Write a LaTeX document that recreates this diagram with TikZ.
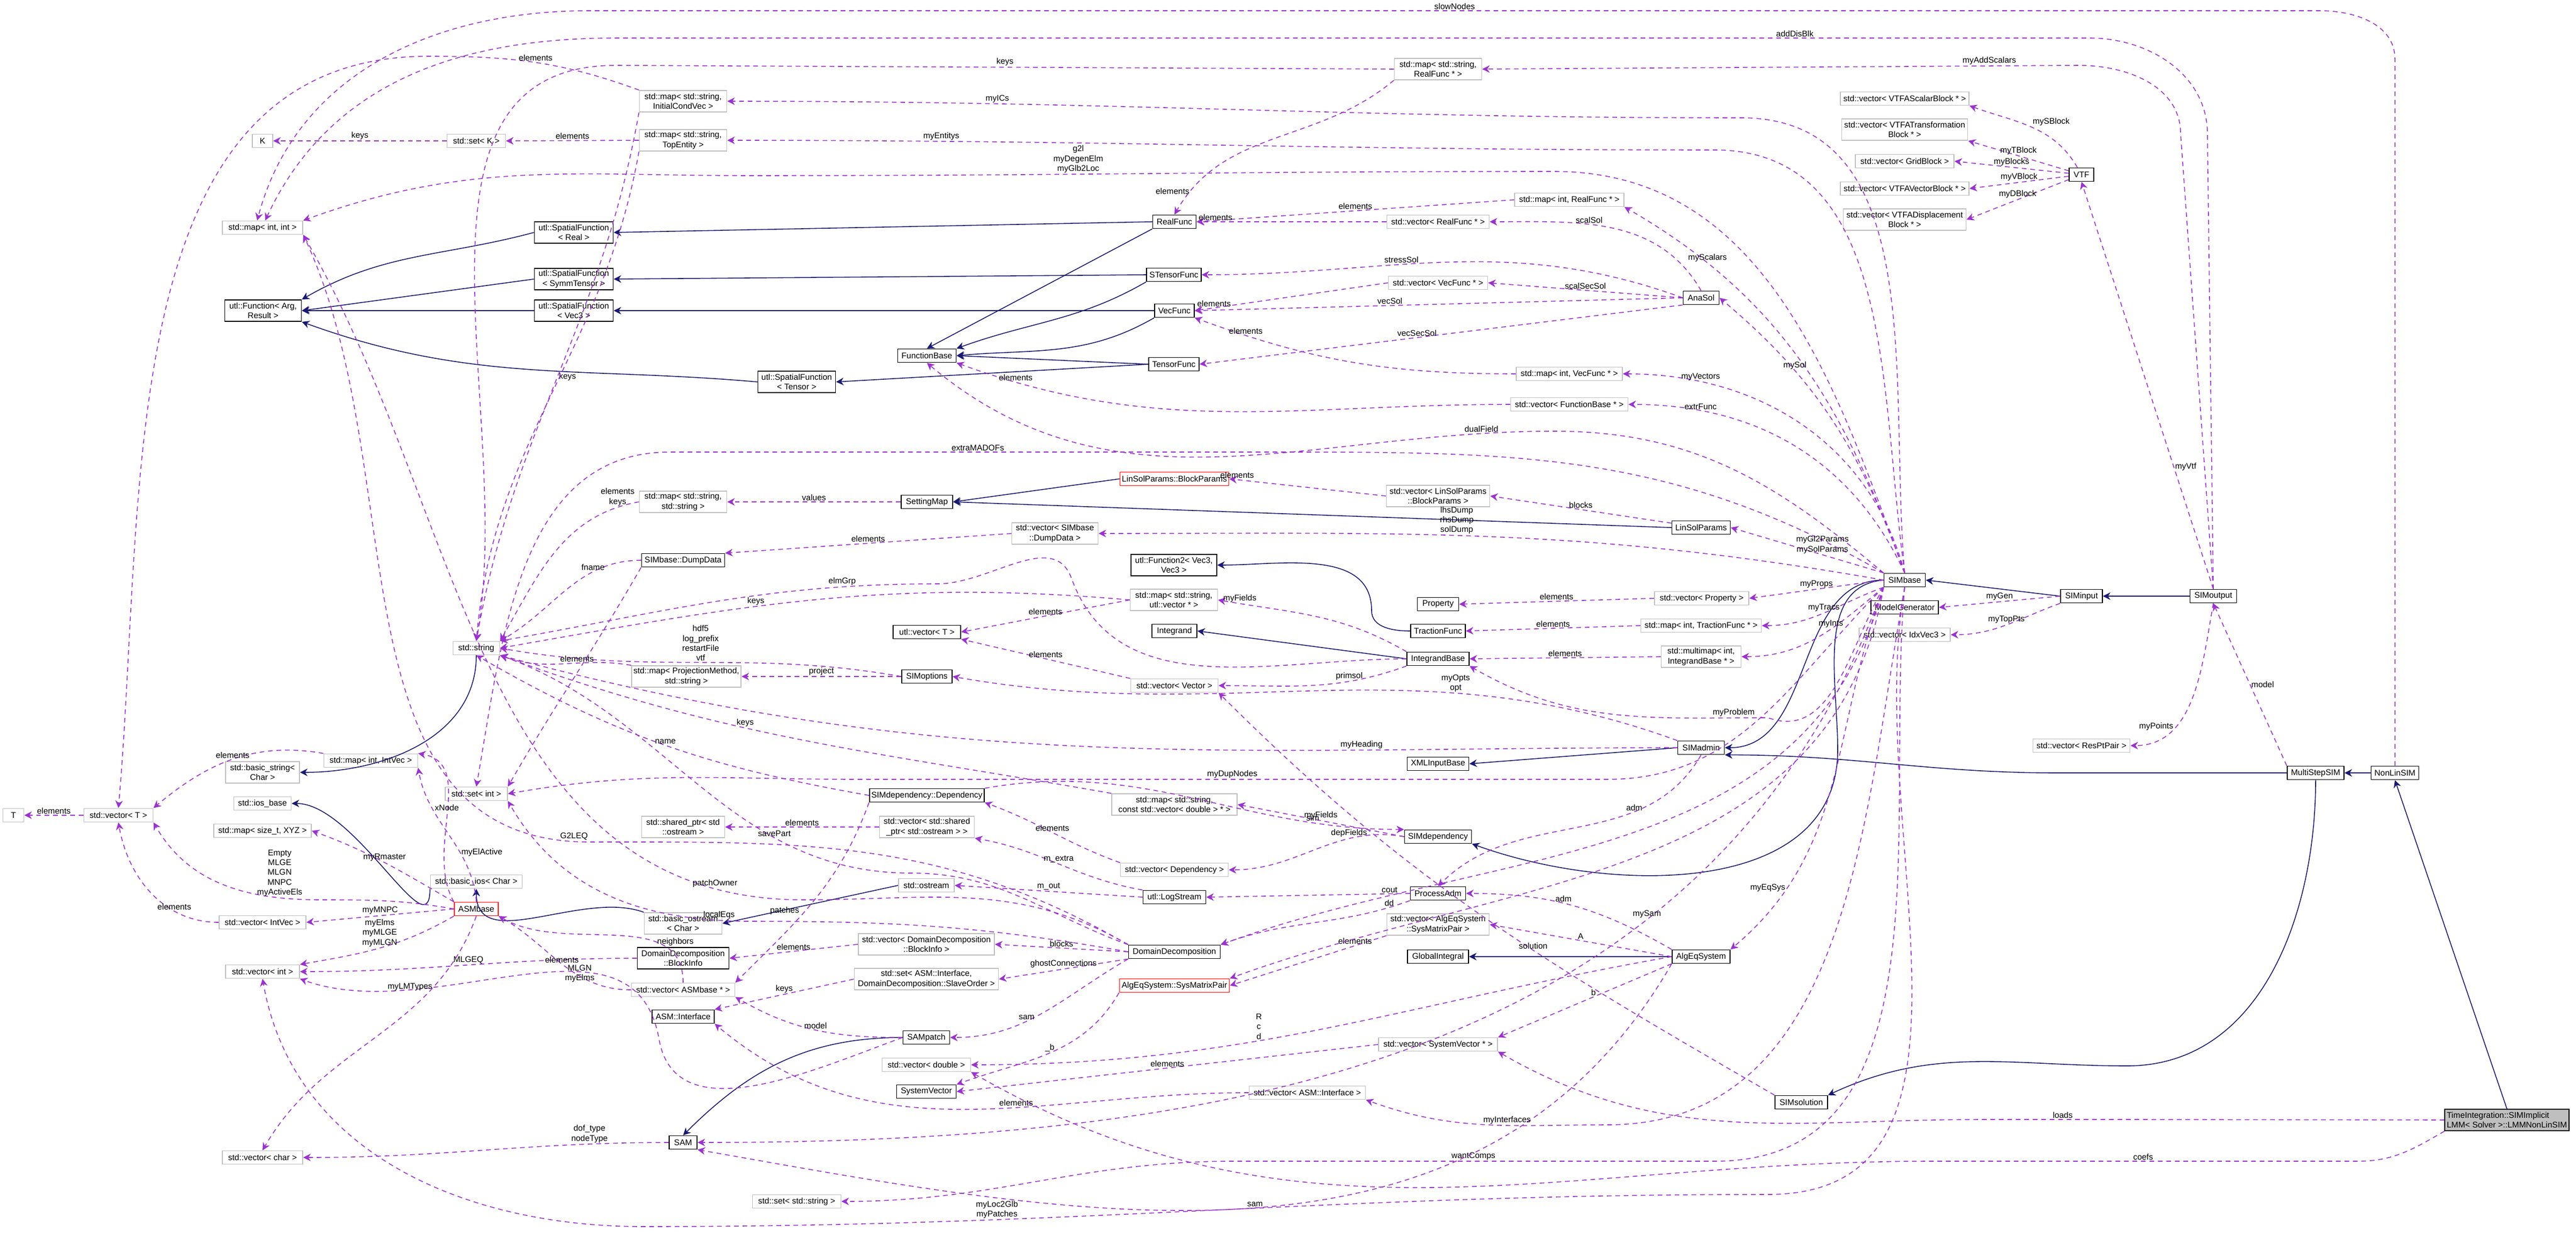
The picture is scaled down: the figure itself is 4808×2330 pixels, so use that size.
\documentclass[tikz,border=0pt]{standalone}
\usepackage{fontspec}
\setmainfont{Liberation Sans}
\usetikzlibrary{arrows.meta}
\definecolor{nv}{HTML}{191970}
\definecolor{pu}{HTML}{9A32CD}
\definecolor{gb}{HTML}{BFBFBF}
\begin{document}
\begin{tikzpicture}[x=0.01cm,y=-0.01cm,
 every node/.style={font=\fontsize{4.4}{5.2}\selectfont,inner sep=1pt,align=center},
 b/.style={draw=black,line width=0.5pt,fill=white,minimum height=0.25cm},
 e/.style={draw=gb,line width=0.5pt,fill=white,minimum height=0.25cm},
 r/.style={draw=red,line width=0.5pt,fill=white,minimum height=0.25cm},
 t/.style={minimum height=0.40cm},
 i/.style={draw=nv,line width=0.45pt,-{Stealth[length=4pt,width=4pt]}},
 u/.style={draw=pu,line width=0.45pt,dash pattern=on 2.5pt off 2pt,-{Stealth[length=4pt,width=4pt]}},
 lb/.style={fill=none,inner sep=0.5pt}]
\useasboundingbox (0,0) rectangle (4808,2330);
% ---------- nodes ----------
\node[e,minimum width=0.38cm] (K) at (490,263) {K};
\node[e,minimum width=1.09cm] (setK) at (889,263) {std::set< K >};
\node[e,minimum width=1.50cm] (mapii) at (490,425) {std::map< int, int >};
\node[b,t,minimum width=1.47cm] (sfR) at (1071,434) {utl::SpatialFunction\\< Real >};
\node[b,t,minimum width=1.47cm] (sfS) at (1071,521) {utl::SpatialFunction\\< SymmTensor >};
\node[b,t,minimum width=1.47cm] (sfV) at (1071,580) {utl::SpatialFunction\\< Vec3 >};
\node[b,t,minimum width=1.43cm] (fun) at (491,580) {utl::Function< Arg,\\Result >};
\node[e,t,minimum width=1.63cm] (mapIC) at (1275,189) {std::map< std::string,\\InitialCondVec >};
\node[e,t,minimum width=1.63cm] (mapTop) at (1275,262) {std::map< std::string,\\TopEntity >};
\node[b,minimum width=0.81cm] (RF) at (2192,414) {RealFunc};
\node[b,minimum width=1.02cm] (STF) at (2191,513) {STensorFunc};
\node[b,minimum width=0.74cm] (VF) at (2192,580) {VecFunc};
\node[b,minimum width=1.09cm] (FB) at (1730,664) {FunctionBase};
\node[b,minimum width=0.94cm] (TF) at (2191,680) {TensorFunc};
\node[b,t,minimum width=1.45cm] (sfT) at (1487,713) {utl::SpatialFunction\\< Tensor >};
\node[e,t,minimum width=1.63cm] (mapSRF) at (2684,129) {std::map< std::string,\\RealFunc * >};
\node[e,minimum width=2.40cm] (vS) at (3555,184) {std::vector< VTFAScalarBlock * >};
\node[e,t,minimum width=2.35cm] (vT) at (3555,242) {std::vector< VTFATransformation\\Block * >};
\node[e,minimum width=1.84cm] (vG) at (3555,301) {std::vector< GridBlock >};
\node[e,minimum width=2.40cm] (vV) at (3555,352) {std::vector< VTFAVectorBlock * >};
\node[e,t,minimum width=2.29cm] (vD) at (3555,410) {std::vector< VTFADisplacement\\Block * >};
\node[e,minimum width=2.04cm] (mapIRF) at (2929,373) {std::map< int, RealFunc * >};
\node[e,minimum width=1.91cm] (vecRF) at (2684,414) {std::vector< RealFunc * >};
\node[e,minimum width=1.85cm] (vecVF) at (2684,528) {std::vector< VecFunc * >};
\node[b,minimum width=0.67cm] (Ana) at (3175,556) {AnaSol};
\node[e,minimum width=1.98cm] (mapIVF) at (2929,698) {std::map< int, VecFunc * >};
\node[e,minimum width=2.19cm] (vecFB) at (2929,755) {std::vector< FunctionBase * >};
\node[b,minimum width=0.46cm] (VTF) at (3885,326) {VTF};
\node[e,minimum width=0.87cm] (str) at (889,1210) {std::string};
\node[e,minimum width=1.75cm] (mapIIV) at (692,1420) {std::map< int, IntVec >};
\node[e,t,minimum width=1.38cm] (bstr) at (490,1442) {std::basic\_string<\\Char >};
\node[e,minimum width=1.07cm] (ios) at (490,1500) {std::ios\_base};
\node[e,minimum width=1.16cm] (setint) at (889,1482) {std::set< int >};
\node[e,minimum width=1.29cm] (vecT) at (221,1522) {std::vector< T >};
\node[e,minimum width=0.39cm] (T) at (25,1522) {T};
\node[e,minimum width=1.82cm] (mapXYZ) at (490,1551) {std::map< size\_t, XYZ >};
\node[e,t,minimum width=1.63cm] (mapSS) at (1275,937) {std::map< std::string,\\std::string >};
\node[b,minimum width=0.96cm] (SM) at (1730,937) {SettingMap};
\node[r,minimum width=2.01cm] (BP) at (2192,894) {LinSolParams::BlockParams};
\node[e,t,minimum width=1.61cm] (vecDD) at (1969,996) {std::vector< SIMbase\\::DumpData >};
\node[b,minimum width=1.55cm] (DD) at (1275,1046) {SIMbase::DumpData};
\node[b,t,minimum width=1.60cm] (F2) at (2191,1055) {utl::Function2< Vec3,\\Vec3 >};
\node[e,t,minimum width=1.63cm] (mapSUV) at (2191,1120) {std::map< std::string,\\utl::vector * >};
\node[b,minimum width=1.26cm] (uvT) at (1730,1180) {utl::vector< T >};
\node[b,minimum width=0.84cm] (Int) at (2192,1178) {Integrand};
\node[e,t,minimum width=2.00cm] (mapPM) at (1281,1263) {std::map< ProjectionMethod,\\std::string >};
\node[b,minimum width=0.94cm] (opt) at (1730,1263) {SIMoptions};
\node[e,minimum width=1.63cm] (vecVec) at (2192,1280) {std::vector< Vector >};
\node[b,minimum width=2.13cm] (dep) at (1730,1485) {SIMdependency::Dependency};
\node[e,t,minimum width=2.34cm] (mapSCV) at (2192,1502) {std::map< std::string,\\const std::vector< double > * >};
\node[e,t,minimum width=1.55cm] (shp) at (1275,1544) {std::shared\_ptr< std\\::ostream >};
\node[e,t,minimum width=1.77cm] (vecSP) at (1730,1544) {std::vector< std::shared\\\_ptr< std::ostream > >};
\node[e,t,minimum width=1.93cm] (vecBP) at (2684,926) {std::vector< LinSolParams\\::BlockParams >};
\node[b,minimum width=1.09cm] (LSP) at (3175,985) {LinSolParams};
\node[b,minimum width=0.77cm] (SB) at (3555,1083) {SIMbase};
\node[b,minimum width=0.77cm] (Prop) at (2684,1128) {Property};
\node[e,minimum width=1.76cm] (vecProp) at (3176,1117) {std::vector< Property >};
\node[b,minimum width=1.26cm] (MG) at (3555,1134) {ModelGenerator};
\node[b,minimum width=1.02cm] (TrF) at (2684,1178) {TractionFunc};
\node[e,minimum width=2.25cm] (mapTF) at (3175,1168) {std::map< int, TractionFunc * >};
\node[e,minimum width=1.70cm] (vecIdx) at (3555,1185) {std::vector< IdxVec3 >};
\node[b,minimum width=1.16cm] (IB) at (2684,1230) {IntegrandBase};
\node[e,t,minimum width=1.49cm] (mmap) at (3175,1226) {std::multimap< int,\\IntegrandBase * >};
\node[b,minimum width=0.87cm] (adm) at (3175,1396) {SIMadmin};
\node[b,minimum width=1.15cm] (XML) at (2684,1426) {XMLInputBase};
\node[b,minimum width=1.25cm] (SD) at (2684,1562) {SIMdependency};
\node[b,minimum width=0.78cm] (SI) at (3885,1113) {SIMinput};
\node[b,minimum width=0.87cm] (SO) at (4131,1113) {SIMoutput};
\node[e,minimum width=1.81cm] (vecRP) at (3885,1392) {std::vector< ResPtPair >};
\node[b,minimum width=1.06cm] (MS) at (4322,1443) {MultiStepSIM};
\node[b,minimum width=0.89cm] (NL) at (4470,1443) {NonLinSIM};
\node[e,minimum width=1.71cm] (bios) at (889,1646) {std::basic\_ios< Char >};
\node[r,minimum width=0.82cm] (ASM) at (889,1697) {ASMbase};
\node[e,minimum width=1.62cm] (vecIV) at (490,1722) {std::vector< IntVec >};
\node[e,minimum width=1.38cm] (vecint) at (490,1814) {std::vector< int >};
\node[e,minimum width=1.50cm] (vecchar) at (490,2161) {std::vector< char >};
\node[e,minimum width=1.04cm] (ost) at (1729,1653) {std::ostream};
\node[b,minimum width=1.17cm] (LS) at (2192,1675) {utl::LogStream};
\node[e,minimum width=2.01cm] (vecDep) at (2192,1624) {std::vector< Dependency >};
\node[e,t,minimum width=1.45cm] (bost) at (1275,1724) {std::basic\_ostream\\< Char >};
\node[e,t,minimum width=2.54cm] (vecBI) at (1729,1763) {std::vector< DomainDecomposition\\::BlockInfo >};
\node[b,t,minimum width=1.71cm] (BI) at (1275,1789) {DomainDecomposition\\::BlockInfo};
\node[b,minimum width=1.71cm] (DDc) at (2192,1777) {DomainDecomposition};
\node[e,t,minimum width=2.69cm] (setASM) at (1729,1828) {std::set< ASM::Interface,\\DomainDecomposition::SlaveOrder >};
\node[r,minimum width=2.05cm] (SMP) at (2192,1840) {AlgEqSystem::SysMatrixPair};
\node[e,minimum width=1.93cm] (vecASM) at (1275,1848) {std::vector< ASMbase * >};
\node[b,minimum width=1.16cm] (AI) at (1275,1898) {ASM::Interface};
\node[b,minimum width=0.87cm] (SAMp) at (1729,1937) {SAMpatch};
\node[e,minimum width=1.65cm] (vecdb) at (1729,1988) {std::vector< double >};
\node[b,minimum width=1.11cm] (SV) at (1729,2038) {SystemVector};
\node[b,minimum width=0.52cm] (SAM) at (1275,2133) {SAM};
\node[e,minimum width=1.65cm] (setstr) at (1487,2243) {std::set< std::string >};
\node[e,minimum width=2.17cm] (vecAI) at (2440,2040) {std::vector< ASM::Interface >};
\node[b,minimum width=1.03cm] (PA) at (2684,1668) {ProcessAdm};
\node[e,t,minimum width=1.91cm] (vecSMP) at (2684,1726) {std::vector< AlgEqSystem\\::SysMatrixPair >};
\node[b,minimum width=1.14cm] (GI) at (2684,1786) {GlobalIntegral};
\node[b,minimum width=1.08cm] (AES) at (3175,1786) {AlgEqSystem};
\node[e,minimum width=2.22cm] (vecSV) at (2684,1950) {std::vector< SystemVector * >};
\node[b,minimum width=0.98cm] (SS) at (3362,2058) {SIMsolution};
\node[b,t,minimum width=2.30cm,fill=gb,align=left] (TI) at (4679,2091) {TimeIntegration::SIMImplicit\\LMM< Solver >::LMMNonLinSIM};
% ---------- inheritance ----------
\draw[i] (sfR.west) to[out=195,in=30] (fun.north east);
\draw[i] (sfS.west) -- (fun.east);
\draw[i] (sfV) -- (fun);
\draw[i] (sfT.west) to[out=175,in=-20] (fun.south east);
\draw[i] (RF.west) -- (sfR.east);
\draw[i] (RF.south west) -- (FB.north);
\draw[i] (STF.west) -- (sfS.east);
\draw[i] (STF.south west) to[out=210,in=20] (FB.north east);
\draw[i] (VF) -- (sfV);
\draw[i] (VF.south west) to[out=210,in=5] (FB.east);
\draw[i] (TF.west) -- (FB.east);
\draw[i] (TF.west) -- (sfT.east);
\draw[i] (BP.west) -- (SM.east);
\draw[i] (LSP.west) -- (SM.east);
\draw[i] (str.south) to[out=-90,in=0] (bstr.east);
\draw[i] (bios.south west) to[out=-90,in=0] (ios.east);
\draw[i] (bost.north west) to[out=160,in=-90] (bios.south);
\draw[i] (ost.west) -- (bost.east);
\draw[i] (TrF.west) to[out=180,in=-90] (2560,1140) to[out=90,in=0] (F2.east);
\draw[i] (IB.west) -- (Int.east);
\draw[i] (SB.west) to[out=180,in=0] (adm.east);
\draw[i] (adm.west) -- (XML.east);
\draw[i] (SB.west) to[out=185,in=90] (3430,1400) to[out=-90,in=-20] (SD.south east);
\draw[i] (SAMp.west) to[out=180,in=45] (SAM.north);
\draw[i] (SI.west) -- (SB.east);
\draw[i] (SO) -- (SI);
\draw[i] (MS.west) -- (3840,1443) to[out=180,in=0] (adm.south east);
\draw[i] (NL) -- (MS);
\draw[i] (MS.south) to[out=-90,in=0] (3970,1990) to[out=180,in=25] (SS.north east);
\draw[i] (TI.north) -- (NL.south);
\draw[i] (AES.west) -- (GI.east);
% ---------- usage ----------
\draw[u] (vecT) -- node[lb,above]{elements} (T);
\draw[u] (setK) -- node[lb,above]{keys} (K);
\draw[u] (mapTop.west) -- node[lb,above]{elements} (setK.east);
\draw[u] (NL.north) -- (4470,110) to[out=90,in=0] (4330,20) -- node[lb,above]{slowNodes} (1100,20) to[out=180,in=75] ([xshift=-0.1cm]mapii.north);
\draw[u] (SO.north) -- (4120,250) to[out=90,in=0] (3900,71) -- node[lb,above,pos=0.2]{addDisBlk} (1150,71) to[out=180,in=65] ([xshift=0.05cm]mapii.north);
\draw[u] (SO.north) -- (4070,250) to[out=90,in=0] (3880,122) -- node[lb,above,pos=0.15]{myAddScalars} (mapSRF.east);
\draw[u] (mapSRF.west) -- node[lb,above]{keys} (1150,122) to[out=180,in=80] (str.north);
\draw[u] (mapSRF.south west) to[out=-140,in=60] node[lb,left,pos=0.9]{elements} (RF.north);
\draw[u] (mapIC.north west) to[out=160,in=0] node[lb,above]{elements} (800,105) to[out=180,in=85] (vecT.north);
\draw[u] (mapIC.south west) to[out=-100,in=80] node[lb,right,pos=0.5]{keys} (str.north);
\draw[u] (mapTop.south west) to[out=-100,in=85] (str.north);
\draw[u] (SB.north) to[out=95,in=0] (3250,220) to[out=180,in=0] node[lb,above,pos=0.75]{myICs} (mapIC.east);
\draw[u] (SB.north) to[out=98,in=0] (3200,280) to[out=180,in=0] node[lb,above,pos=0.8]{myEntitys} (mapTop.east);
\draw[u] (SB.north) to[out=110,in=0] (2900,320) to[out=180,in=0] node[lb,above,pos=0.6,align=center]{g2l\\myDegenElm\\myGlb2Loc} (1400,328) to[out=180,in=20] (mapii.north east);
\draw[u] (mapIRF.west) -- node[lb,above]{elements} (RF.east);
\draw[u] (SB.north) to[out=110,in=-30] node[lb,above,pos=0.8]{myScalars} (mapIRF.south east);
\draw[u] (vecRF.west) -- node[lb,above,pos=0.9]{elements} (RF.east);
\draw[u] (Ana.north) to[out=120,in=0] node[lb,above,pos=0.6]{scalSol} (vecRF.east);
\draw[u] (Ana.west) to[out=160,in=0] node[lb,above,pos=0.6]{stressSol} (STF.east);
\draw[u] (Ana.west) -- node[lb,above]{scalSecSol} (vecVF.east);
\draw[u] (vecVF.west) -- node[lb,above,pos=0.9]{elements} (VF.east);
\draw[u] (Ana.west) -- node[lb,above,pos=0.6]{vecSol} (VF.east);
\draw[u] (Ana.south west) -- node[lb,above,pos=0.55]{vecSecSol} (TF.east);
\draw[u] (mapIVF.west) to[out=180,in=-20] node[lb,above,pos=0.85]{elements} (VF.south east);
\draw[u] (SB.north) to[out=105,in=0] node[lb,above,pos=0.8]{myVectors} (mapIVF.east);
\draw[u] (SB.north) to[out=110,in=-40] node[lb,above,pos=0.7]{mySol} (Ana.east);
\draw[u] (vecFB.west) to[out=180,in=-20] node[lb,above,pos=0.9]{elements} (FB.south east);
\draw[u] (SB.north) to[out=115,in=0] node[lb,above,pos=0.8]{extrFunc} (vecFB.east);
\draw[u] (SB.north west) to[out=140,in=0] (2900,805) to[out=180,in=-40] node[lb,above,pos=0.1]{dualField} (FB.south);
\draw[u] (VTF) to[out=120,in=-20] node[lb,above right]{mySBlock} (vS.south east);
\draw[u] (VTF) -- node[lb,above]{myTBlock} (vT.south east);
\draw[u] (VTF) -- node[lb,above]{myBlocks} (vG.east);
\draw[u] (VTF) -- node[lb,above]{myVBlock} (vV.east);
\draw[u] (VTF) -- node[lb,above]{myDBlock} (vD.east);
\draw[u] (SO.north) -- node[lb,right,pos=0.3]{myVtf} (VTF.south);
\draw[u] (SB.north west) to[out=150,in=0] (2400,844) -- node[lb,above]{extraMADOFs} (1250,844) to[out=180,in=80] (setint.north);
\draw[u] (SM) -- node[lb,above]{values} (mapSS);
\draw[u] (mapSS.west) to[out=190,in=60] node[lb,above,pos=0.1]{elements\\keys} (str.north east);
\draw[u] (vecBP.west) -- node[lb,above,pos=0.95]{elements} (BP.east);
\draw[u] (LSP) -- node[lb,above]{blocks} (vecBP.east);
\draw[u] (SB.north west) -- node[lb,above,pos=0.4]{myGl2Params\\mySolParams} (LSP.east);
\draw[u] (vecDD.west) -- node[lb,above]{elements} (DD.north east);
\draw[u] (SB.west) to[out=170,in=0] node[lb,above,pos=0.55]{lhsDump\\rhsDump\\solDump} (vecDD.east);
\draw[u] (DD.west) to[out=180,in=30] node[lb,above,pos=0.3]{fname} (str.north east);
\draw[u] (DD.south west) to[out=-120,in=60] (setint.north east);
\draw[u] (opt.west) to[out=170,in=-10] node[lb,above,pos=0.5]{hdf5\\log\_prefix\\restartFile\\vtf} (str.east);
\draw[u] (opt) -- node[lb,above]{project} (mapPM);
\draw[u] (mapPM.north west) to[out=170,in=-20] node[lb,above,pos=0.4]{elements} (str.south east);
\draw[u] (vecProp.west) -- node[lb,above]{elements} (Prop.east);
\draw[u] (SB.west) -- node[lb,above]{myProps} (vecProp.east);
\draw[u] (mapTF.west) -- node[lb,above]{elements} (TrF.east);
\draw[u] (SB.south west) to[out=200,in=0] node[lb,above,pos=0.5]{myTracs} (mapTF.east);
\draw[u] (mmap.west) -- node[lb,above]{elements} (IB.east);
\draw[u] (SB.south west) to[out=220,in=0] node[lb,above,pos=0.4]{myInts} (mmap.east);
\draw[u] (SB.south west) to[out=240,in=-20] (3300,1340) to[out=180,in=-30] node[lb,above,pos=0.1]{myProblem} (IB.south east);
\draw[u] (mapSUV.west) -- node[lb,above]{elements} (uvT.east);
\draw[u] (mapSUV.west) to[out=175,in=10] node[lb,above,pos=0.6]{keys} (str.east);
\draw[u] (IB.north west) to[out=150,in=-10] node[lb,above,pos=0.9]{myFields} (mapSUV.east);
\draw[u] (vecVec.north west) -- node[lb,above]{elements} (uvT.south east);
\draw[u] (IB.south west) to[out=200,in=0] node[lb,above,pos=0.3]{primsol} (vecVec.east);
\draw[u] (IB.west) to[out=180,in=-70] (2000,1080) to[out=110,in=0] (1750,1090) to[out=180,in=10] node[lb,above,pos=0.2]{elmGrp} (str.north east);
\draw[u] (adm.north west) to[out=160,in=-10] node[lb,above,pos=0.3]{myOpts\\opt} (opt.east);
\draw[u] (adm.west) to[out=180,in=-15] node[lb,above,pos=0.25]{myHeading} (str.south east);
\draw[u] (SB.south west) to[out=225,in=0] (3000,1455) -- node[lb,above]{myDupNodes} (1600,1455) to[out=180,in=10] (setint.east);
\draw[u] (SD.west) -- node[lb,above]{myFields} (mapSCV.east);
\draw[u] (SD.west) to[out=170,in=0] node[lb,above,pos=0.3]{depFields} (vecDep.east);
\draw[u] (vecDep.north west) to[out=160,in=-20] node[lb,above,pos=0.5]{elements} (dep.south east);
\draw[u] (dep.north east) to[out=10,in=180] node[lb,above,pos=0.8]{sim} (SD.north west);
\draw[u] (mapSCV.north west) to[out=170,in=-20] node[lb,above,pos=0.6]{keys} (str.south east);
\draw[u] (dep.west) to[out=170,in=-30] node[lb,above,pos=0.5]{name} (str.south);
\draw[u] (dep.south west) to[out=-110,in=45] node[lb,above left,pos=0.6]{patches} (vecASM.north east);
\draw[u] (vecSP) -- node[lb,above]{elements} (shp);
\draw[u] (LS.north west) to[out=170,in=-10] node[lb,above,pos=0.5]{m\_extra} (vecSP.south east);
\draw[u] (LS.west) -- node[lb,above]{m\_out} (ost.east);
\draw[u] (PA.west) -- node[lb,above,pos=0.1]{cout} (LS.east);
\draw[u] (PA.south west) to[out=200,in=20] node[lb,above,pos=0.1]{dd} (DDc.north east);
\draw[u] (adm.south) to[out=-120,in=45] node[lb,above,pos=0.3]{adm} (PA.north);
\draw[u] (AES.north west) to[out=150,in=0] node[lb,above,pos=0.55]{adm} (PA.east);
\draw[u] (DDc.west) -- node[lb,above]{blocks} (vecBI.east);
\draw[u] (vecBI.west) -- node[lb,above]{elements} (BI.east);
\draw[u] (DDc.south west) -- node[lb,above]{ghostConnections} (setASM.east);
\draw[u] (setASM.west) -- node[lb,above]{keys} (AI.north east);
\draw[u] (DDc.south west) to[out=210,in=0] node[lb,above,pos=0.6]{sam} (SAMp.east);
\draw[u] (DDc.north west) to[out=160,in=0] (1700,1630) to[out=180,in=-20] node[lb,above,pos=0.3]{savePart} (str.south east);
\draw[u] (DDc.north west) to[out=150,in=0] (1500,1680) to[out=180,in=-60] node[lb,above,pos=0.1]{patchOwner} (mapii.south east);
\draw[u] (DDc.west) to[out=170,in=0] (1400,1720) to[out=180,in=-60] node[lb,above,pos=0.1]{localEqs} (setint.south east);
\draw[u] (DDc.north west) to[out=150,in=0] (1100,1572) to[out=180,in=-65] node[lb,above,pos=0.02]{G2LEQ} (mapii.south east);
\draw[u] (BI.west) to[out=180,in=0] node[lb,above,pos=0.5]{MLGEQ} (vecint.east);
\draw[u] (SAMp.west) to[out=180,in=-30] node[lb,above,pos=0.5]{model} (vecASM.south east);
\draw[u] (vecASM.west) to[out=180,in=-30] node[lb,above,pos=0.5]{elements} (ASM.south east);
\draw[u] (vecASM.north) to[out=90,in=-30] node[lb,right,pos=0.3]{neighbors} (ASM.south east);
\draw[u] (SAMp.west) to[out=200,in=-80] (1230,1940) to[out=100,in=-20] node[lb,left,pos=0.3]{MLGN\\myElms} (vecint.south east);
\draw[u] (ASM.west) -- node[lb,above]{myMNPC} (vecIV.east);
\draw[u] (ASM.south west) to[out=210,in=10] node[lb,above,pos=0.5]{myElms\\myMLGE\\myMLGN} (vecint.north east);
\draw[u] (ASM.south) to[out=-110,in=60] node[lb,left,pos=0.25]{myLMTypes} (vecchar.north);
\draw[u] (ASM.north west) to[out=150,in=-20] node[lb,above,pos=0.5]{myRmaster} (mapXYZ.east);
\draw[u] (ASM.west) to[out=170,in=0] (600,1680) to[out=180,in=-60] node[lb,above,pos=0.2]{Empty\\MLGE\\MLGN\\MNPC\\myActiveEls} (vecT.south east);
\draw[u] (vecIV.west) to[out=180,in=-80] node[lb,above,pos=0.3]{elements} (vecT.south);
\draw[u] (mapIIV.north west) to[out=170,in=40] node[lb,above,pos=0.5]{elements} (vecT.north east);
\draw[u] (ASM.north west) to[out=120,in=-10] node[lb,above,pos=0.5]{xNode} (mapIIV.north east);
\draw[u] (ASM.north) to[out=95,in=-80] node[lb,right,pos=0.35]{myElActive} (mapIIV.south east);
\draw[u] (SAM.west) to[out=180,in=0] node[lb,above,pos=0.2]{dof\_type\\nodeType} (vecchar.east);
\draw[u] (SB.south) to[out=-100,in=0] (3300,2230) to[out=180,in=0] node[lb,above,pos=0.7]{myLoc2Glb\\myPatches} (1200,2290) to[out=180,in=-80] (vecint.south);
\draw[u] (SB.south) to[out=-95,in=0] (3200,2168) -- node[lb,above]{wantComps} (2300,2168) to[out=180,in=0] (setstr.east);
\draw[u] (SB.south west) to[out=-110,in=0] node[lb,above,pos=0.3]{mySam} (SAM.east);
\draw[u] (AES.south west) to[out=-120,in=-10] node[lb,above,pos=0.5]{sam} (SAM.south east);
\draw[u] (AES.west) -- node[lb,above]{A} (vecSMP.east);
\draw[u] (vecSMP.south west) -- node[lb,above,pos=0.2]{elements} (SMP.east);
\draw[u] (AES.south west) -- node[lb,above,pos=0.45]{b} (vecSV.north east);
\draw[u] (vecSV.west) -- node[lb,above,pos=0.5]{elements} (SV.east);
\draw[u] (AES.west) to[out=190,in=0] node[lb,above,pos=0.6]{R\\c\\d} (vecdb.east);
\draw[u] (SMP.south west) to[out=-120,in=20] node[lb,above,pos=0.5]{\_b} (SV.north east);
\draw[u] (SB.south west) to[out=-110,in=40] node[lb,left,pos=0.8]{myEqSys} (AES.north east);
\draw[u] (SB.south west) to[out=-100,in=20] (SMP.north east);
\draw[u] (SB.south west) to[out=-105,in=20] (DDc.north east);
\draw[u] (SS.north west) to[out=150,in=-45] node[lb,above,pos=0.4]{solution} (vecVec.south east);
\draw[u] (SB.south) to[out=-100,in=0] (3000,2100) to[out=180,in=-20] node[lb,above,pos=0.4]{myInterfaces} (vecAI.south east);
\draw[u] (vecAI.west) to[out=180,in=-40] node[lb,above,pos=0.4]{elements} (AI.south east);
\draw[u] (TI.west) -- (4000,2090) -- node[lb,above]{loads} (3700,2090) to[out=180,in=-30] (vecSV.south east);
\draw[u] (TI.south west) to[out=-150,in=0] (4400,2168) -- node[lb,above]{coefs} (3600,2168) to[out=180,in=-30] (vecdb.south east);
\draw[u] (SI.west) -- node[lb,above]{myGen} (MG.east);
\draw[u] (SI.south west) to[out=200,in=0] node[lb,above]{myTopPts} (vecIdx.east);
\draw[u] (SO.south) to[out=-100,in=0] node[lb,left,pos=0.7]{myPoints} (vecRP.east);
\draw[u] (MS.north west) -- node[lb,right]{model} (SO.south);
\end{tikzpicture}
\end{document}
